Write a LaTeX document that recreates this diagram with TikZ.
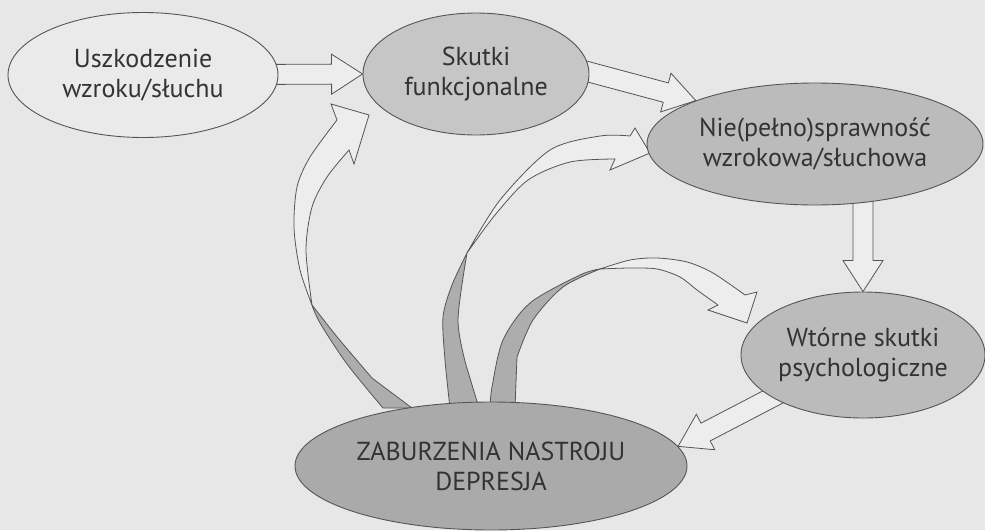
\documentclass[tikz,border=0pt]{standalone}
\usepackage{fontspec}
\setmainfont{PT Sans}
\usetikzlibrary{calc,shapes.geometric,backgrounds}
\definecolor{paper}{HTML}{E7E7E7}
\definecolor{rim}{HTML}{555555}
\definecolor{ink}{HTML}{333333}
\definecolor{ovalwhite}{HTML}{EAEAEA}
\definecolor{ovallight}{HTML}{C6C6C6}
\definecolor{ovalmid}{HTML}{BBBBBB}
\definecolor{ovaldark}{HTML}{AAAAAA}
\definecolor{arrowfill}{HTML}{EDEDED}
\definecolor{twistgray}{HTML}{ADADAD}
% straight block arrow from #1 to #2
\newcommand{\fatarrow}[2]{%
  \path (#1) coordinate (fa-s) (#2) coordinate (fa-e);
  \path ($(fa-s)!-12pt!(fa-e)$) coordinate (fa-b) ($(fa-e)!31pt!(fa-s)$) coordinate (fa-h);
  \filldraw[blockarrow] ($(fa-b)!10pt!90:(fa-e)$) -- ($(fa-h)!10pt!90:(fa-e)$)
    -- ($(fa-h)!20pt!90:(fa-e)$) -- (fa-e) -- ($(fa-h)!20pt!-90:(fa-e)$)
    -- ($(fa-h)!10pt!-90:(fa-e)$) -- ($(fa-b)!10pt!-90:(fa-e)$) -- cycle;}

\begin{document}
\begin{tikzpicture}[x=1pt,y=-1pt,
    oval/.style={ellipse,draw=rim,line width=0.9pt,inner sep=0pt,align=center,
      text=ink,font=\fontsize{26}{30}\selectfont},
    blockarrow/.style={draw=rim,fill=arrowfill,line width=0.8pt,line join=miter},
    twist/.style={draw=rim,fill=twistgray,line width=0.8pt}
  ]
    \useasboundingbox (0,0) rectangle (985,530);

    \node[oval,fill=ovalwhite,minimum width=270pt,minimum height=125pt] (uszk) at (143,75) {Uszkodzenie\\wzroku/słuchu};
    \node[oval,fill=ovallight,minimum width=226pt,minimum height=122pt] (skutki) at (476,74) {Skutki\\funkcjonalne};
    \node[oval,fill=ovalmid,minimum width=336pt,minimum height=122pt] (niepel) at (815,144) {Nie(pełno)sprawność\\wzrokowa/słuchowa};
    \node[oval,fill=ovalmid,minimum width=244pt,minimum height=126pt] (wtorne) at (863,355) {Wtórne skutki\\psychologiczne};
    \node[oval,fill=ovaldark,minimum width=392pt,minimum height=128pt] (zabur) at (491,466) {ZABURZENIA NASTROJU\\DEPRESJA};

    \begin{scope}[on background layer]
      \fill[paper] (0,0) rectangle (985,530);

      \fatarrow{uszk.center}{skutki.west}
      \fatarrow{$(skutki.east)+(-8,-4)$}{niepel.160}
      \fatarrow{wtorne.north |- niepel.center}{wtorne.north}
      \fatarrow{wtorne.205}{zabur.6}

      % curved arrow to skutki
      \filldraw[twist] plot[smooth] coordinates {(312,305) (320,323) (347,364) (383,408)}
        -- (412,408) -- plot[smooth] coordinates {(372,378) (338,338) (312,305)} -- cycle;
      \filldraw[blockarrow] plot[smooth] coordinates {(312,305) (300,270) (294,228) (297,187) (310,157) (337,120)}
        -- (331,104) -- (369,115) -- (354,164)
        -- plot[smooth] coordinates {(349,150) (327,177) (312,207) (306,250) (312,305)} -- cycle;

      % curved arrow to niepel
      \filldraw[twist] plot[smooth] coordinates {(467,253) (452,285) (443,317) (445,360) (450,408)}
        -- (479,408) -- plot[smooth] coordinates {(466,365) (458,320) (467,253)} -- cycle;
      \filldraw[blockarrow] plot[smooth] coordinates {(467,253) (500,200) (550,150) (600,136) (630,136)}
        -- (635,128) -- (650,153) -- (610,170)
        -- plot[smooth] coordinates {(615,159) (570,162) (528,180) (495,215) (467,253)} -- cycle;

      % curved arrow to wtorne
      \filldraw[twist] plot[smooth] coordinates {(600,269) (580,275) (530,303) (503,340) (492,387) (490,408)}
        -- (515,408) -- plot[smooth] coordinates {(517,357) (533,320) (563,287) (600,269)} -- cycle;
      \filldraw[blockarrow] plot[smooth] coordinates {(600,269) (630,260) (657,258) (687,262) (713,273) (745,295)}
        -- (757,292) -- (747,323) -- (708,310)
        -- plot[smooth] coordinates {(718,305) (697,290) (680,277) (657,269) (630,268) (600,269)} -- cycle;
    \end{scope}
  \end{tikzpicture}
\end{document}
